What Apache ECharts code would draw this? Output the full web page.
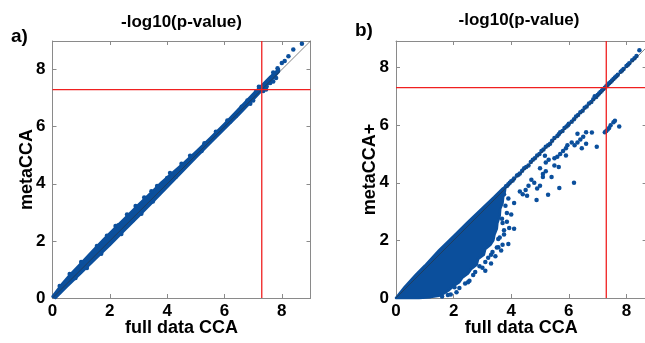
<!DOCTYPE html>
<html>
<head>
<meta charset="utf-8">
<script src="https://cdn.jsdelivr.net/npm/echarts@6/dist/echarts.min.js"></script>
<style>html,body{margin:0;padding:0;background:#fff}#c{width:645px;height:343px}</style>
</head>
<body>
<div id="c"></div>
<script>
// ---- data ----
const threshold = 7.3;            // -log10(5e-8)
const axisMaxA = 9;
const axisMaxBx = 8.7;
const axisMaxBy = 8.92;

// panel a: dense band (upper edge then lower edge), in data coordinates
const bandA = [
  [0,0.05],[0.3,0.45],[0.6,0.8],[1,1.22],[1.4,1.65],[1.8,2.07],[2.2,2.47],[2.6,2.87],[3,3.27],[3.4,3.65],
  [3.8,4.05],[4.2,4.4],[4.6,4.75],[5,5.12],[5.5,5.6],[6,6.1],[6.5,6.62],[7,7.15],[7.3,7.45],[7.6,7.75],[7.9,8.02],
  [7.9,7.93],[7.5,7.48],[7,6.95],[6.5,6.42],[6,5.92],[5.5,5.42],[5,4.92],[4.5,4.4],[4,3.88],[3.5,3.37],
  [3,2.86],[2.5,2.36],[2,1.85],[1.5,1.37],[1,0.88],[0.5,0.4],[0.1,0.0]
];
const pointsA = [
  [0.25,0.42],[0.6,0.84],[1.0,1.26],[1.55,1.82],[1.9,2.18],[2.2,2.52],[2.6,2.92],[2.9,3.22],[3.2,3.52],[3.45,3.74],
  [3.65,3.92],[4.1,4.38],[4.5,4.7],[4.8,4.98],[5.3,5.42],[5.7,5.82],[6.1,6.22],[6.4,6.38],[6.6,6.7],[6.8,6.92],
  [7.1,7.22],[7.2,7.4],[7.3,7.3],[7.35,7.25],[7.45,7.3],[7.6,7.55],[7.8,7.7],[2.8,2.72],[3.5,3.38],[5.2,5.15],
  [6.2,6.18],[1.2,1.05],[0.8,0.7],[2.4,2.24],[4.3,4.25],[7.47,7.41],[7.59,7.53],[7.7,7.9],[8.0,8.23],
  [8.23,8.47],[8.4,8.7],[8.7,8.9],[6.9,6.8],[7.0,6.92],[7.7,7.58],[1.7,1.55],[3.1,2.95],[4.0,4.2],[2.3,2.55],
  [7.85,8.05],[8.1,8.3],[7.2,7.28],[7.25,7.35]
];

// panel b: dense wedge (upper edge then lower edge)
const wedgeB = [
  [0,0],[0.3,0.38],[0.7,0.82],[1.0,1.12],[1.5,1.66],[2.0,2.15],[2.5,2.64],[3.0,3.12],[3.4,3.5],[3.7,3.8],[3.8,3.86],
  [3.78,3.7],[3.72,3.5],[3.7,3.3],[3.62,3.1],[3.6,2.85],[3.52,2.6],[3.5,2.4],[3.42,2.2],[3.38,2.0],[3.28,1.85],
  [3.1,1.7],[3.05,1.5],[2.85,1.35],[2.8,1.15],[2.6,1.0],[2.5,0.85],[2.3,0.7],[2.2,0.55],[2.0,0.42],[1.85,0.28],
  [1.7,0.18],[1.5,0.08],[1.2,0.03],[0.8,0.0],[0.2,0.0]
];
const diagPointsB = [
  [3.9,3.95],[3.95,4.0],[4.0,4.05],[4.05,4.08],[4.1,4.15],[4.2,4.25],[4.25,4.28],[4.3,4.32],[4.38,4.42],[4.45,4.5],
  [4.52,4.55],[4.6,4.6],[4.68,4.72],[4.75,4.8],[4.82,4.85],[4.9,4.95],[4.98,5.0],[5.05,5.1],[5.12,5.15],[5.2,5.25],
  [5.28,5.3],[5.35,5.35],[5.42,5.46],[5.5,5.55],[5.7,5.75],[5.78,5.8],[5.85,5.9],[6.0,6.05],[6.1,6.12],[6.18,6.2],
  [6.25,6.3],[6.32,6.35],[6.4,6.45],[6.48,6.5],[6.55,6.6],[6.62,6.65],[6.7,6.75],[6.78,6.8],[6.85,6.9],[6.95,6.98],
  [7.0,7.05],[7.05,7.1],[7.1,7.15],[7.15,7.2],[7.2,7.25],[7.3,7.35],[7.4,7.45],[7.5,7.55],[7.6,7.65],[7.65,7.7],
  [7.7,7.75],[7.8,7.85],[7.85,7.9],[7.9,7.95],[8.0,8.05],[8.05,8.1],[8.1,8.15],[8.2,8.25],[8.28,8.32],[8.35,8.4],
  [8.45,8.6],[7.25,7.3],[7.35,7.4],[7.45,7.5],[7.55,7.6],[6.9,7.0],[5.6,5.62],[5.65,5.68],[5.92,5.95],[5.97,6.0],
  [3.82,3.88],[3.86,3.9]
];
const offPointsB = [
  [7.25,5.75],[7.3,5.8],[7.35,5.85],[7.4,5.9],[7.45,6.0],[7.55,6.1],[7.6,6.15],[7.75,5.95],
  [6.3,5.7],[6.5,5.6],[6.6,5.75],[6.8,5.74],[6.2,5.3],[6.3,5.4],[6.4,5.5],[6.45,5.2],[6.6,5.35],[6.97,5.25],
  [5.2,4.7],[5.3,4.8],[5.5,4.85],[5.6,4.9],[5.7,5.0],[5.8,5.1],[5.9,5.2],[5.95,5.3],[6.1,5.4],[5.5,4.6],
  [5.65,4.55],[5.9,4.95],[5.0,4.5],[5.1,4.3],[5.2,4.4],[5.4,4.2],[5.17,4.94],
  [4.6,3.9],[4.7,4.1],[4.8,4.0],[4.9,3.8],[5.0,3.9],[5.1,4.2],
  [4.88,3.4],[5.28,3.58],[5.67,3.82],[6.18,4.0],
  [4.3,3.7],[4.4,3.6],[4.5,3.75],[4.55,3.55],[4.1,3.3],
  [3.93,2.43],[4.1,2.4],[3.9,1.87],[3.55,1.76],[2.68,0.8],[2.03,0.37],
  [2.5,0.55],[2.9,1.1],[3.1,1.25],[3.3,1.5],[3.5,1.75],[3.7,1.85],[3.55,2.05],[3.85,2.65],[4.0,2.9],
  [3.75,2.35],[1.8,0.1],[2.2,0.35],[3.2,1.9],
  [3.0,1.05],[3.2,1.4],[3.35,1.6],[2.75,0.9],[2.4,0.5],[2.1,0.2],[1.9,0.12],[1.6,0.05],[3.6,2.1],[3.75,2.2],
  [3.7,2.6],[3.85,2.95],[3.8,3.2],[3.9,3.45],[3.3,1.2],[3.1,0.95],[2.55,0.6],[3.45,1.45],[3.65,1.65],
  [3.75,3.6],[3.68,2.75]
];

// ---- chart ----
const BLUE = '#0b4f9c';
const RED = '#f02020';
const FONT = 'Liberation Sans, Arial, sans-serif';

function polySeries(poly, xi, yi) {
  return {
    type: 'custom', xAxisIndex: xi, yAxisIndex: yi, silent: true, z: 2,
    data: [[poly[0][0], poly[0][1]]],
    renderItem: function (params, api) {
      return {
        type: 'polygon',
        shape: { points: poly.map(p => api.coord(p)) },
        style: { fill: BLUE, stroke: BLUE, lineWidth: 2.5, lineJoin: 'round' }
      };
    }
  };
}
function lineSeries(data, xi, yi, color, width, z) {
  return { type: 'line', xAxisIndex: xi, yAxisIndex: yi, data: data, symbol: 'none', silent: true, z: z,
    lineStyle: { color: color, width: width }, animation: false };
}
function scatter(data, xi, yi) {
  return { type: 'scatter', xAxisIndex: xi, yAxisIndex: yi, data: data, symbolSize: 4.5, z: 3,
    itemStyle: { color: BLUE, opacity: 1 }, animation: false };
}
function xAx(gi, max, pos, show, name) {
  return {
    type: 'value', gridIndex: gi, position: pos, min: 0, max: max, interval: 2,
    axisLine: { onZero: false, lineStyle: { color: '#8a8a8a', width: 1 } },
    axisTick: { inside: true, length: 4, lineStyle: { color: '#8a8a8a' } },
    axisLabel: { show: show, color: '#000', fontFamily: FONT, fontWeight: 'bold', fontSize: 17, margin: 5,
      showMaxLabel: false },
    splitLine: { show: false },
    name: name || '', nameLocation: 'middle', nameGap: 21, nameMoveOverlap: false,
    nameTextStyle: { color: '#000', fontFamily: FONT, fontWeight: 'bold', fontSize: 18 }
  };
}
function yAx(gi, max, pos, show, name, gap) {
  return {
    type: 'value', gridIndex: gi, position: pos, min: 0, max: max, interval: 2,
    axisLine: { onZero: false, lineStyle: { color: '#8a8a8a', width: 1 } },
    axisTick: { inside: true, length: 4, lineStyle: { color: '#8a8a8a' } },
    axisLabel: { show: show, color: '#000', fontFamily: FONT, fontWeight: 'bold', fontSize: 17, margin: 7,
      showMaxLabel: false },
    splitLine: { show: false },
    name: name || '', nameLocation: 'middle', nameGap: gap || 20, nameMoveOverlap: false,
    nameTextStyle: { color: '#000', fontFamily: FONT, fontWeight: 'bold', fontSize: 18 }
  };
}

const chart = echarts.init(document.getElementById('c'), null, { renderer: 'canvas' });
chart.setOption({
  animation: false,
  backgroundColor: '#fff',
  grid: [
    { left: 52.5, top: 41, width: 258, height: 257, outerBoundsMode: 'none', containLabel: false },
    { left: 396, top: 41, width: 250.6, height: 257, outerBoundsMode: 'none', containLabel: false }
  ],
  xAxis: [
    xAx(0, axisMaxA, 'bottom', true, 'full data CCA'),
    xAx(0, axisMaxA, 'top', false),
    xAx(1, axisMaxBx, 'bottom', true, 'full data CCA'),
    xAx(1, axisMaxBx, 'top', false)
  ],
  yAxis: [
    yAx(0, axisMaxA, 'left', true, 'metaCCA', 16),
    yAx(0, axisMaxA, 'right', false),
    yAx(1, axisMaxBy, 'left', true, 'metaCCA+', 17),
    yAx(1, axisMaxBy, 'right', false)
  ],
  graphic: [
    { type: 'text', left: 11, top: 27, style: { text: 'a)', font: 'bold 19px ' + FONT, fill: '#000' } },
    { type: 'text', left: 355, top: 21, style: { text: 'b)', font: 'bold 19px ' + FONT, fill: '#000' } },
    { type: 'text', x: 181.5, y: 22, style: { text: '-log10(p-value)', font: 'bold 17px ' + FONT, fill: '#000', align: 'center', verticalAlign: 'middle' } },
    { type: 'text', x: 519, y: 20, style: { text: '-log10(p-value)', font: 'bold 17px ' + FONT, fill: '#000', align: 'center', verticalAlign: 'middle' } }
  ],
  series: [
    polySeries(bandA, 0, 0),
    scatter(pointsA, 0, 0),
    lineSeries([[0, 0], [axisMaxA, axisMaxA]], 0, 0, '#333', 0.6, 4),
    lineSeries([[threshold, 0], [threshold, axisMaxA]], 0, 0, RED, 1.3, 5),
    lineSeries([[0, threshold], [axisMaxA, threshold]], 0, 0, RED, 1.3, 5),

    polySeries(wedgeB, 2, 2),
    scatter(diagPointsB, 2, 2),
    scatter(offPointsB, 2, 2),
    lineSeries([[0, 0], [axisMaxBx, axisMaxBx]], 2, 2, '#333', 0.6, 4),
    lineSeries([[threshold, 0], [threshold, axisMaxBy]], 2, 2, RED, 1.3, 5),
    lineSeries([[0, threshold], [axisMaxBx, threshold]], 2, 2, RED, 1.3, 5)
  ]
});
</script>
</body>
</html>
